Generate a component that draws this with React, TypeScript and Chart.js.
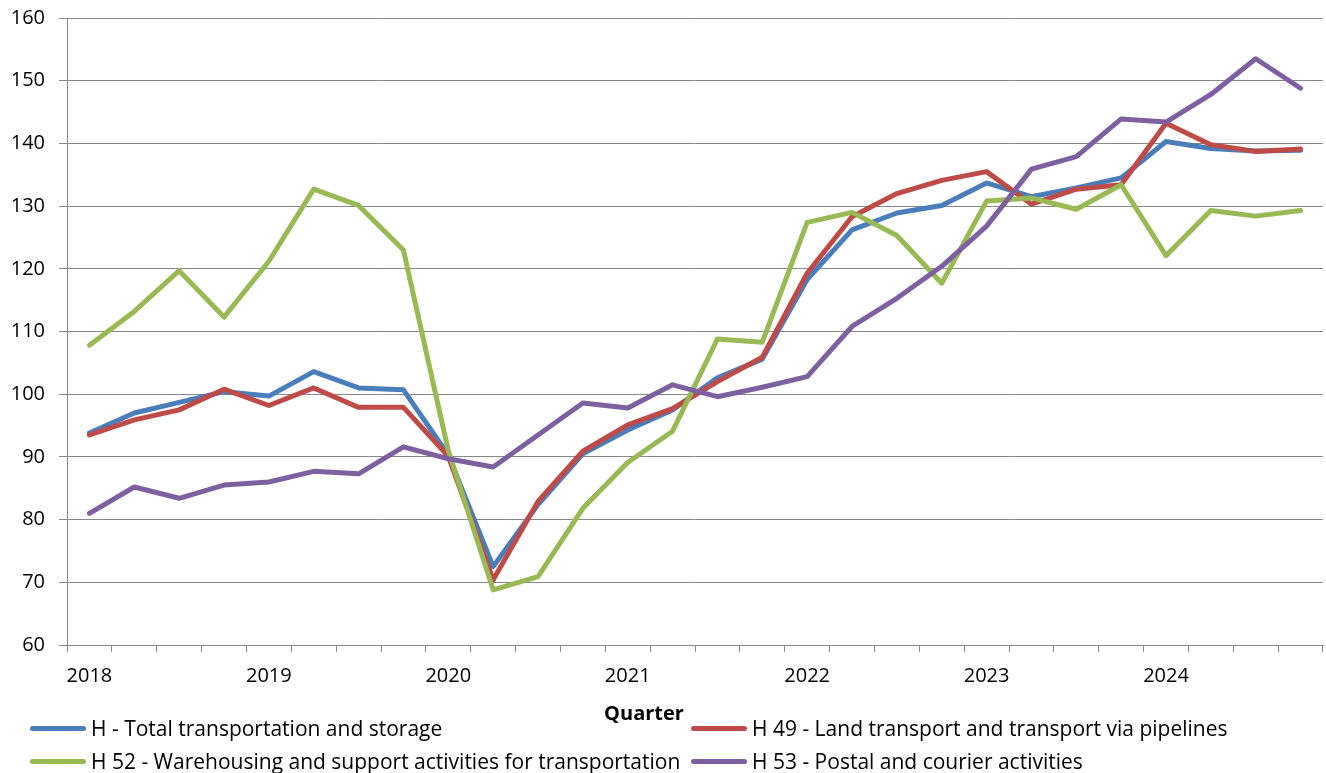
import React, { useEffect, useRef } from "react";
import { Chart, registerables } from "chart.js";

Chart.register(...registerables);

const quarters = [
  "2018Q1", "2018Q2", "2018Q3", "2018Q4",
  "2019Q1", "2019Q2", "2019Q3", "2019Q4",
  "2020Q1", "2020Q2", "2020Q3", "2020Q4",
  "2021Q1", "2021Q2", "2021Q3", "2021Q4",
  "2022Q1", "2022Q2", "2022Q3", "2022Q4",
  "2023Q1", "2023Q2", "2023Q3", "2023Q4",
  "2024Q1", "2024Q2", "2024Q3", "2024Q4",
];

const tickLabels = [
  "2018", "", "", "",
  "2019", "", "", "",
  "2020", "", "", "",
  "2021", "", "", "",
  "2022", "", "", "",
  "2023", "", "", "",
  "2024", "", "", "",
];

const seriesNames = [
  "H - Total transportation and storage",
  "H 49 - Land transport and transport via pipelines",
  "H 52 - Warehousing and support activities for transportation",
  "H 53 - Postal and courier activities",
];

const totalTransport = [93.8, 97.0, 98.7, 100.4, 99.7, 103.6, 101.0, 100.7, 90.3, 72.5, 82.4, 90.5, 94.3, 97.5, 102.6, 105.6, 118.3, 126.2, 128.9, 130.1, 133.7, 131.5, 132.9, 134.5, 140.3, 139.2, 138.8, 138.9];
const landTransport = [93.5, 95.9, 97.5, 100.8, 98.2, 101.0, 97.9, 97.9, 90.1, 70.4, 82.9, 90.9, 95.1, 97.7, 102.0, 105.9, 119.3, 128.3, 132.0, 134.1, 135.5, 130.3, 132.7, 133.4, 143.2, 139.8, 138.7, 139.1];
const warehousing = [107.8, 113.2, 119.7, 112.3, 121.2, 132.7, 130.1, 123.0, 91.0, 68.8, 70.9, 81.8, 89.1, 94.1, 108.8, 108.3, 127.4, 129.0, 125.3, 117.7, 130.8, 131.3, 129.5, 133.4, 122.1, 129.3, 128.4, 129.3];
const postal = [81.0, 85.2, 83.4, 85.5, 86.0, 87.7, 87.3, 91.6, 89.7, 88.4, 93.5, 98.6, 97.8, 101.5, 99.6, 101.1, 102.8, 110.8, 115.3, 120.4, 126.8, 135.9, 137.9, 143.9, 143.4, 147.8, 153.5, 148.8];

const colors = ["#4A7EBB", "#BE4B48", "#98B954", "#7D60A0"];

const TICK_FONT = "'Open Sans', Lato, sans-serif";
const TEXT_FONT = "'Open Sans', Lato, sans-serif";

export default function App() {
  const canvasRef = useRef<HTMLCanvasElement | null>(null);

  useEffect(() => {
    if (!canvasRef.current) return;
    const seriesValues = [totalTransport, landTransport, warehousing, postal];
    const drawOrder = [3, 2, 1, 0];
    const chart = new Chart(canvasRef.current, {
      type: "line",
      data: {
        labels: quarters,
        datasets: seriesValues.map((vals, i) => ({
          label: seriesNames[i],
          data: vals,
          borderColor: colors[i],
          backgroundColor: colors[i],
          borderWidth: 5,
          pointRadius: 0,
          pointHoverRadius: 0,
          tension: 0,
          borderJoinStyle: "round" as const,
          borderCapStyle: "round" as const,
          order: drawOrder[i],
        })),
      },
      options: {
        animation: false,
        responsive: false,
        maintainAspectRatio: false,
        layout: { padding: { left: 0, top: 18, right: 3, bottom: 0 } },
        plugins: {
          legend: { display: false },
          tooltip: { enabled: false },
          title: { display: false },
        },
        scales: {
          x: {
            type: "category",
            offset: true,
            grid: {
              offset: true,
              drawOnChartArea: false,
              drawTicks: true,
              tickLength: 7,
              color: "#888888",
              lineWidth: 1,
            },
            border: { color: "#888888", width: 1 },
            ticks: {
              autoSkip: false,
              maxRotation: 0,
              minRotation: 0,
              padding: 12,
              color: "#000000",
              font: { family: TICK_FONT, size: 20 },
              callback: (_v: any, idx: number) => tickLabels[idx],
            },
            afterFit: (scale: any) => {
              scale.height = 128;
              scale.paddingLeft = 0;
              scale.paddingRight = 0;
            },
          },
          y: {
            min: 60,
            max: 160,
            grid: {
              color: "#888888",
              lineWidth: 1,
              drawTicks: true,
              tickLength: 8,
            },
            border: { color: "#888888", width: 1 },
            ticks: {
              stepSize: 10,
              padding: 14,
              color: "#000000",
              font: { family: TICK_FONT, size: 20 },
            },
            afterFit: (scale: any) => {
              scale.width = 67;
              scale.paddingTop = 0;
              scale.paddingBottom = 0;
            },
          },
        },
      },
    });
    return () => chart.destroy();
  }, []);

  const legendItems = [
    { name: seriesNames[0], color: colors[0], x: 30, y: 728 },
    { name: seriesNames[1], color: colors[1], x: 691, y: 728 },
    { name: seriesNames[2], color: colors[2], x: 30, y: 761 },
    { name: seriesNames[3], color: colors[3], x: 691, y: 761 },
  ];

  return (
    <div
      style={{
        position: "fixed",
        left: 0,
        top: 0,
        width: 1326,
        height: 773,
        background: "#ffffff",
        overflow: "hidden",
        fontFamily: TEXT_FONT,
      }}
    >
      <canvas ref={canvasRef} width={1326} height={773} style={{ display: "block" }} />
      <div
        style={{
          position: "absolute",
          left: 544,
          width: 200,
          top: 713 - 13,
          height: 26,
          lineHeight: "26px",
          textAlign: "center",
          fontWeight: 700,
          fontSize: 20,
          color: "#000",
        }}
      >
        Quarter
      </div>
      {legendItems.map((it) => (
        <div
          key={it.name}
          style={{
            position: "absolute",
            left: it.x,
            top: it.y - 15,
            height: 30,
            display: "flex",
            alignItems: "center",
            whiteSpace: "nowrap",
            fontSize: 21,
            color: "#000",
          }}
        >
          <div
            style={{
              width: 56,
              height: 5,
              borderRadius: 3,
              background: it.color,
              marginRight: 5,
            }}
          />
          <span>{it.name}</span>
        </div>
      ))}
    </div>
  );
}
